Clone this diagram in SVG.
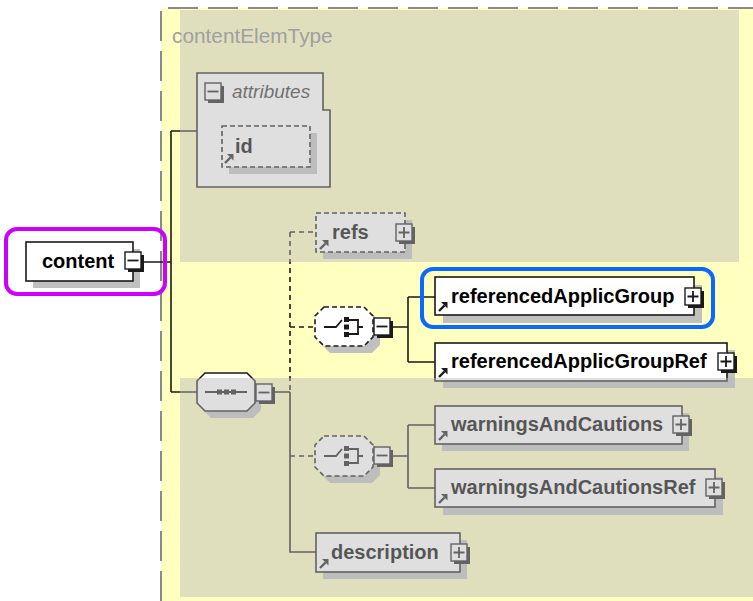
<svg xmlns="http://www.w3.org/2000/svg" xmlns:xlink="http://www.w3.org/1999/xlink" width="753" height="601" viewBox="0 0 753 601">
  <style>
    .bg{fill:#ffffc0}
    .frame{fill:none;stroke:#8a8a8a;stroke-width:2;stroke-dasharray:30 10}
    .box{fill:#fff;stroke:#1a1a1a;stroke-width:1.6}
    .opt{stroke-dasharray:5 3}
    .shadow{fill:#c0c0c0}
    .lbl{font-family:"Liberation Sans",Arial,sans-serif;font-size:20px;font-weight:bold;fill:#000}
    .ital{font-family:"Liberation Sans",Arial,sans-serif;font-size:19px;font-style:italic;fill:#333}
    .title{font-family:"Liberation Sans",Arial,sans-serif;font-size:20.8px;fill:#a0a0a0}
    .line{fill:none;stroke:#1a1a1a;stroke-width:1.6}
    .dash{stroke-dasharray:5 4}
    .icon{fill:none;stroke:#1a1a1a;stroke-width:1.8}
    .dot{fill:#1a1a1a}
    .dim{fill:#b9b9b9;opacity:0.46}
    .hl{fill:none;stroke-width:4}
  </style>
  <defs>
    <g id="btn-plus">
      <rect x="3" y="3" width="16" height="17" fill="#1a1a1a"/>
      <rect width="16" height="17" fill="#fff" stroke="#1a1a1a" stroke-width="1.4"/>
      <path d="M2.5,8.5 H13.5 M8,3 V14" stroke="#1a1a1a" stroke-width="1.8"/>
    </g>
    <g id="btn-minus">
      <rect x="3" y="3" width="16" height="17" fill="#1a1a1a"/>
      <rect width="16" height="17" fill="#fff" stroke="#1a1a1a" stroke-width="1.4"/>
      <path d="M2.5,8.5 H13.5" stroke="#1a1a1a" stroke-width="1.8"/>
    </g>
    <g id="ref-arrow">
      <path d="M1,9 L6.5,3.5" stroke="#1a1a1a" stroke-width="2.4" fill="none"/>
      <polygon points="3,0 9.5,0 9.5,6.5" fill="#1a1a1a"/>
    </g>
    <g id="choice-icon">
      <path class="icon" d="M-21,0 H-9 L-3,-7 M4,-7 H13 V7 H4 M13,0 H18"/>
      <rect class="dot" x="-1" y="-10" width="5" height="5"/>
      <rect class="dot" x="-1" y="-2.5" width="5" height="5"/>
      <rect class="dot" x="-1" y="5" width="5" height="5"/>
    </g>
  </defs>

  <!-- complex type area -->
  <rect class="bg" x="161" y="8" width="592" height="593"/>
  <path class="frame" d="M161,601 V8 H753"/>

  <!-- connectors -->
  <g id="connectors">
    <path class="line" d="M141,262 H171 M171,131 V392 M171,131 H197 M171,392 H197"/>
    <path class="line" d="M274,392 H290 M290,392 V552 H316"/>
    <path class="line dash" d="M290,232 V392 M290,232 H316 M290,327 H315 M290,456 H315"/>
    <path class="line" d="M391,327 H408 M408,297 V362 M408,297 H435 M408,362 H435"/>
    <path class="line" d="M391,456 H408 M408,425 V488 M408,425 H435 M408,488 H435"/>
  </g>

  <!-- root element -->
  <g id="node-content">
    <rect class="shadow" x="33" y="249" width="107" height="39"/>
    <rect class="box" x="26" y="242" width="107" height="39"/>
    <text class="lbl" x="42" y="268">content</text>
    <use xlink:href="#btn-minus" x="125" y="252"/>
  </g>

  <!-- attribute group -->
  <g id="node-attributes">
    <path class="box" d="M197,73 H323 V110 H330 V187 H197 Z"/>
    <use xlink:href="#btn-minus" x="205" y="83"/>
    <text class="ital" x="232" y="98">attributes</text>
  </g>
  <g id="node-id">
    <rect class="shadow" x="229" y="133" width="88" height="41"/>
    <rect class="box opt" x="222" y="126" width="88" height="41"/>
    <text class="lbl" x="235" y="153">id</text>
    <use xlink:href="#ref-arrow" x="224" y="154"/>
  </g>

  <!-- sequence -->
  <g id="node-sequence">
    <polygon class="shadow" points="211,380 253,380 261,388 261,410 253,418 211,418 203,410 203,388"/>
    <polygon class="box" points="205,373 247,373 255,381 255,403 247,411 205,411 197,403 197,381"/>
    <path class="icon" d="M205,392 H247"/>
    <rect class="dot" x="217" y="389.5" width="5" height="5"/>
    <rect class="dot" x="224" y="389.5" width="5" height="5"/>
    <rect class="dot" x="231" y="389.5" width="5" height="5"/>
    <use xlink:href="#btn-minus" x="256" y="384"/>
  </g>

  <g id="node-refs">
    <rect class="shadow" x="323" y="220" width="89" height="39"/>
    <rect class="box opt" x="316" y="213" width="89" height="39"/>
    <text class="lbl" x="332" y="239">refs</text>
    <use xlink:href="#ref-arrow" x="319" y="240"/>
    <use xlink:href="#btn-plus" x="396" y="224"/>
  </g>

  <!-- first choice -->
  <g id="node-choice-applic">
    <polygon class="shadow" points="330,314 372,314 380,322 380,345 372,353 330,353 322,345 322,322"/>
    <polygon class="box opt" points="324,307 364,307 373,316 373,337 364,346 324,346 315,337 315,316"/>
    <use xlink:href="#choice-icon" transform="translate(345,327)"/>
    <use xlink:href="#btn-minus" x="374" y="318"/>
  </g>
  <g id="node-referencedApplicGroup">
    <rect class="shadow" x="443" y="285" width="259" height="38"/>
    <rect class="box" x="435" y="277" width="259" height="38"/>
    <text class="lbl" x="451" y="303">referencedApplicGroup</text>
    <use xlink:href="#ref-arrow" x="438" y="302"/>
    <use xlink:href="#btn-plus" x="685" y="288"/>
  </g>
  <g id="node-referencedApplicGroupRef">
    <rect class="shadow" x="443" y="350" width="292" height="38"/>
    <rect class="box" x="435" y="343" width="292" height="38"/>
    <text class="lbl" x="451" y="368">referencedApplicGroupRef</text>
    <use xlink:href="#ref-arrow" x="438" y="368"/>
    <use xlink:href="#btn-plus" x="718" y="353"/>
  </g>

  <!-- second choice -->
  <g id="node-choice-warnings">
    <polygon class="shadow" points="330,443 372,443 380,451 380,475 372,483 330,483 322,475 322,451"/>
    <polygon class="box opt" points="324,436 364,436 373,445 373,467 364,476 324,476 315,467 315,445"/>
    <use xlink:href="#choice-icon" transform="translate(345,456)"/>
    <use xlink:href="#btn-minus" x="374" y="447"/>
  </g>
  <g id="node-warningsAndCautions">
    <rect class="shadow" x="442" y="413" width="247" height="38"/>
    <rect class="box" x="435" y="406" width="247" height="38"/>
    <text class="lbl" x="451" y="431">warningsAndCautions</text>
    <use xlink:href="#ref-arrow" x="438" y="431"/>
    <use xlink:href="#btn-plus" x="673" y="416"/>
  </g>
  <g id="node-warningsAndCautionsRef">
    <rect class="shadow" x="443" y="477" width="280" height="38"/>
    <rect class="box" x="435" y="469" width="280" height="38"/>
    <text class="lbl" x="451" y="494">warningsAndCautionsRef</text>
    <use xlink:href="#ref-arrow" x="438" y="494"/>
    <use xlink:href="#btn-plus" x="706" y="479"/>
  </g>

  <g id="node-description">
    <rect class="shadow" x="323" y="540" width="144" height="39"/>
    <rect class="box" x="316" y="533" width="144" height="39"/>
    <text class="lbl" x="331" y="559">description</text>
    <use xlink:href="#ref-arrow" x="319" y="559"/>
    <use xlink:href="#btn-plus" x="451" y="544"/>
  </g>

  <!-- dimmed regions -->
  <rect class="dim" x="180" y="10" width="559" height="252"/>
  <rect class="dim" x="180" y="378" width="573" height="219"/>

  <text class="title" x="172" y="43">contentElemType</text>

  <!-- highlight outlines -->
  <rect class="hl" x="6" y="229" width="159" height="65" rx="11" stroke="#cc00ff"/>
  <rect class="hl" x="422" y="269" width="291" height="58" rx="11" stroke="#0a68ff"/>
</svg>
